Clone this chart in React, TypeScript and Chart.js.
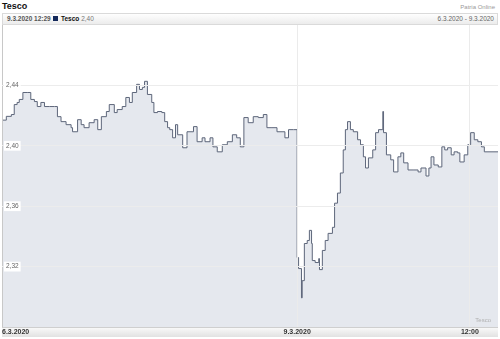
import React, { useEffect, useRef } from "react";
import { Chart, registerables } from "chart.js";
Chart.register(...registerables);

// minutes since the 6.3.2020 session start (9.3.2020 session starts at 410)
const minutes = [
  0, 6, 13, 17, 21, 24, 29, 35, 40, 45, 49, 54, 59, 66, 73, 77, 82, 89, 96, 98,
  105, 110, 114, 121, 128, 133, 138, 145, 149, 156, 160, 167, 172, 177, 181, 187, 191, 195, 198, 202,
  208, 211, 216, 222, 226, 230, 233, 237, 241, 244, 251, 257, 264, 266, 271, 278, 282, 289, 293, 299,
  306, 313, 320, 326, 331, 336, 342, 349, 356, 363, 368, 375, 382, 389, 393, 398, 405, 410,
  410, 412, 416, 417, 420, 424, 427, 430, 431, 435, 440, 441, 445, 449, 453, 459, 462, 466, 470, 474,
  477, 480, 484, 488, 494, 498, 502, 505, 509, 515, 519, 523, 529, 530, 534, 540, 544, 550, 554, 558,
  564, 571, 578, 582, 589, 593, 596, 600, 606, 611, 615, 619, 624, 628, 633, 636, 642, 647, 651, 656,
  661, 666, 670, 689,
];

const prices = [
  2.417, 2.4195, 2.4207, 2.4273, 2.4287, 2.4307, 2.4353, 2.4353, 2.4307, 2.4293, 2.426, 2.4287, 2.426, 2.426, 2.426, 2.4193, 2.416, 2.414, 2.412, 2.4093,
  2.4173, 2.414, 2.412, 2.4153, 2.4173, 2.4107, 2.4193, 2.4227, 2.4273, 2.422, 2.424, 2.426, 2.432, 2.4287, 2.4353, 2.4407, 2.4373, 2.4387, 2.4427, 2.434,
  2.4287, 2.422, 2.4227, 2.422, 2.416, 2.412, 2.4107, 2.4053, 2.414, 2.4073, 2.3987, 2.4093, 2.4093, 2.4127, 2.4027, 2.4053, 2.4027, 2.4053, 2.3993, 2.396,
  2.4007, 2.4027, 2.4073, 2.4053, 2.3993, 2.4187, 2.4153, 2.4193, 2.4187, 2.4207, 2.412, 2.412, 2.4093, 2.4093, 2.4053, 2.4107, 2.4107, 2.4107,
  2.326, 2.3187, 2.2993, 2.3107, 2.3353, 2.3373, 2.344, 2.3353, 2.324, 2.3227, 2.3253, 2.318, 2.3307, 2.3373, 2.342, 2.346, 2.362, 2.3687, 2.382, 2.3973,
  2.4107, 2.416, 2.4107, 2.4093, 2.404, 2.4007, 2.3927, 2.3853, 2.392, 2.3973, 2.4087, 2.4107, 2.4227, 2.4087, 2.394, 2.3907, 2.3827, 2.3927, 2.3953, 2.3887,
  2.384, 2.384, 2.3827, 2.3853, 2.38, 2.3853, 2.3927, 2.3873, 2.386, 2.3993, 2.3973, 2.3987, 2.394, 2.396, 2.3953, 2.3893, 2.394, 2.4007, 2.4087, 2.404,
  2.4027, 2.3993, 2.396, 2.396,
];

const yTicks = [2.32, 2.36, 2.4, 2.44];
const xTickValues = [0, 410, 650, 689];
const xTickLabels = ["6.3.2020", "9.3.2020", "12:00", ""];
const yMin = 2.28;
const yMax = 2.48;
const xMax = 689;

const FONT = '"Liberation Sans", Arial, sans-serif';

export default function App() {
  const ref = useRef<HTMLCanvasElement>(null);

  useEffect(() => {
    document.body.style.margin = "0";
    const canvas = ref.current!;
    const decor = {
      id: "decor",
      beforeDraw(chart: any) {
        const { ctx, chartArea, width, height } = chart;
        ctx.save();
        ctx.fillStyle = "#ffffff";
        ctx.fillRect(0, 0, width, height);
        const g = ctx.createLinearGradient(0, chartArea.bottom, 0, height);
        g.addColorStop(0, "#fbfbfb");
        g.addColorStop(1, "#e2e2e2");
        ctx.fillStyle = g;
        ctx.fillRect(0, chartArea.bottom, width, height - chartArea.bottom);
        ctx.restore();
      },
      afterDraw(chart: any) {
        const { ctx, chartArea } = chart;
        ctx.save();
        ctx.font = `6px ${FONT}`;
        ctx.fillStyle = "#b0b0b0";
        ctx.textAlign = "right";
        ctx.textBaseline = "middle";
        ctx.fillText("Tesco", chartArea.right - 7, chartArea.bottom - 7);
        ctx.restore();
      },
    };

    const chart = new Chart(canvas, {
      type: "line",
      data: {
        datasets: [
          {
            data: minutes.map((m, i) => ({ x: m, y: prices[i] })),
            borderColor: "#5d667a",
            borderWidth: 1,
            backgroundColor: "#e5e8ee",
            fill: "start",
            pointRadius: 0,
            stepped: "before",
          },
        ],
      },
      options: {
        animation: false,
        responsive: false,
        layout: { padding: 0 },
        plugins: { legend: { display: false }, tooltip: { enabled: false } },
        scales: {
          x: {
            type: "linear",
            min: 0,
            max: xMax,
            afterBuildTicks: (scale: any) => {
              scale.ticks = xTickValues.map((v) => ({ value: v }));
            },
            afterFit: (scale: any) => {
              scale.height = 10;
              scale.paddingLeft = 0;
              scale.paddingRight = 0;
            },
            grid: {
              z: 1,
              drawTicks: false,
              color: (c: any) =>
                c.tick && (c.tick.value === 0 || c.tick.value === xMax) ? "#c8c8c8" : "#ebebeb",
            },
            border: { display: true, color: "#cfcfcf", z: 1 },
            ticks: {
              z: 1,
              align: "inner",
              padding: 1,
              autoSkip: false,
              maxRotation: 0,
              color: "#333",
              font: { family: FONT, size: 7, weight: "bold" },
              callback: (_v: any, i: number) => xTickLabels[i],
            },
          },
          y: {
            min: yMin,
            max: yMax,
            afterBuildTicks: (scale: any) => {
              scale.ticks = yTicks.map((v) => ({ value: v }));
            },
            afterFit: (scale: any) => {
              scale.width = 0;
              scale.paddingTop = 0;
              scale.paddingBottom = 0;
            },
            grid: { z: 1, drawTicks: false, color: "#ececec" },
            border: { display: false },
            ticks: {
              z: 2,
              mirror: true,
              padding: 4,
              color: "#666",
              showLabelBackdrop: true,
              backdropColor: "#ffffff",
              backdropPadding: { x: 2, y: 1 },
              font: { family: FONT, size: 6.5 },
              callback: (v: any) => Number(v).toFixed(2).replace(".", ","),
            },
          },
        },
      } as any,
      plugins: [decor],
    });
    return () => chart.destroy();
  }, []);

  return (
    <div style={{ position: "relative", width: 500, height: 339, fontFamily: FONT, background: "#fff", overflow: "hidden" }}>
      <div style={{ position: "absolute", left: 2, top: 1, fontSize: 9, fontWeight: "bold", color: "#111", lineHeight: "11px" }}>Tesco</div>
      <div style={{ position: "absolute", right: 5, top: 3, fontSize: 6, color: "#999", lineHeight: "8px" }}>Patria Online</div>
      <div
        style={{
          position: "absolute",
          left: 2,
          top: 13,
          width: 494,
          height: 10,
          border: "1px solid #dadada",
          background: "linear-gradient(#fefefe, #ececec)",
          fontSize: 6.5,
          lineHeight: "10px",
          color: "#555",
        }}
      >
        <span style={{ position: "absolute", left: 4, fontWeight: "bold", color: "#555" }}>9.3.2020 12:29</span>
        <span style={{ position: "absolute", left: 50, top: 2, width: 5, height: 5, background: "#13285a" }} />
        <span style={{ position: "absolute", left: 58 }}>
          <b style={{ color: "#111" }}>Tesco</b> <span style={{ color: "#777" }}>2,40</span>
        </span>
        <span style={{ position: "absolute", right: 3, color: "#666" }}>6.3.2020 - 9.3.2020</span>
      </div>
      <div style={{ position: "absolute", left: 2, top: 25, width: 496, height: 312 }}>
        <canvas ref={ref} width={496} height={312} style={{ display: "block", width: 496, height: 312 }} />
      </div>
    </div>
  );
}
